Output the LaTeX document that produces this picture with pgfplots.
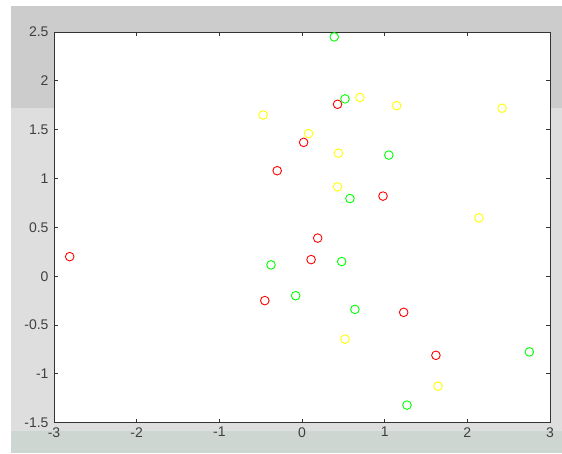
\documentclass[border=0pt]{standalone}
\usepackage{pgfplots}
\pgfplotsset{compat=1.18}
\usepackage{fontspec}
\setmainfont{Liberation Sans}
\definecolor{figgray}{RGB}{204,204,204}
\definecolor{figlight}{RGB}{221,222,221}
\definecolor{figbottom}{RGB}{205,214,208}
\definecolor{plotgreen}{RGB}{236,245,239}
\definecolor{mred}{RGB}{255,0,0}
\definecolor{mgreen}{RGB}{0,255,0}
\definecolor{myellow}{RGB}{255,255,0}
\pgfplotstableread{
x y
-0.30 1.08
0.43 1.76
0.02 1.37
0.98 0.82
-2.81 0.20
-0.45 -0.25
0.19 0.39
0.11 0.17
1.23 -0.37
1.62 -0.81
}\reddata
\pgfplotstableread{
x y
0.39 2.45
0.52 1.815
1.05 1.24
0.58 0.795
-0.375 0.116
-0.077 -0.20
0.48 0.15
0.64 -0.34
2.75 -0.775
1.27 -1.32
}\greendata
\pgfplotstableread{
x y
-0.47 1.65
0.70 1.83
1.145 1.746
2.42 1.72
0.08 1.46
0.44 1.26
0.43 0.914
2.14 0.597
0.52 -0.645
1.645 -1.126
}\yellowdata
\begin{document}
\begin{tikzpicture}[x=1pt,y=1pt]
\path[use as bounding box] (0,0) rectangle (562,453);
\fill[white] (0,0) rectangle (562,453);
\fill[figlight] (11,0) rectangle (562,345);
\fill[figgray] (11,345) rectangle (562,447);
\fill[figbottom] (11,0) rectangle (562,22);
\begin{axis}[
  at={(54pt,30.3pt)}, anchor=south west,
  scale only axis, width=496pt, height=390.7pt,
  xmin=-3, xmax=3, ymin=-1.5, ymax=2.5,
  axis background/.style={fill=white},
  xtick={-3,-2,-1,0,1,2,3},
  xticklabels={-3,-2,-1,0,1,2,3},
  ytick={-1.5,-1,-0.5,0,0.5,1,1.5,2,2.5},
  yticklabels={-1.5,-1,-0.5,0,0.5,1,1.5,2,2.5},
  tick align=inside, major tick length=4pt,
  xtick pos=both, ytick pos=both,
  axis line style={black!80, line width=0.8pt},
  every tick/.style={black!80, line width=0.8pt},
  tick label style={font=\fontsize{14}{16}\selectfont, text=black!75},
  xticklabel style={yshift=-1pt},
  yticklabel style={xshift=-2pt},
  clip=false,
]
\addplot[only marks, mark=o, mark size=4.3pt, mark options={line width=0.9pt}, color=mred] table {\reddata};
\addplot[only marks, mark=o, mark size=4.3pt, mark options={line width=0.9pt}, color=mgreen] table {\greendata};
\addplot[only marks, mark=o, mark size=4.3pt, mark options={line width=0.9pt}, color=myellow] table {\yellowdata};
\end{axis}
\end{tikzpicture}
\end{document}
